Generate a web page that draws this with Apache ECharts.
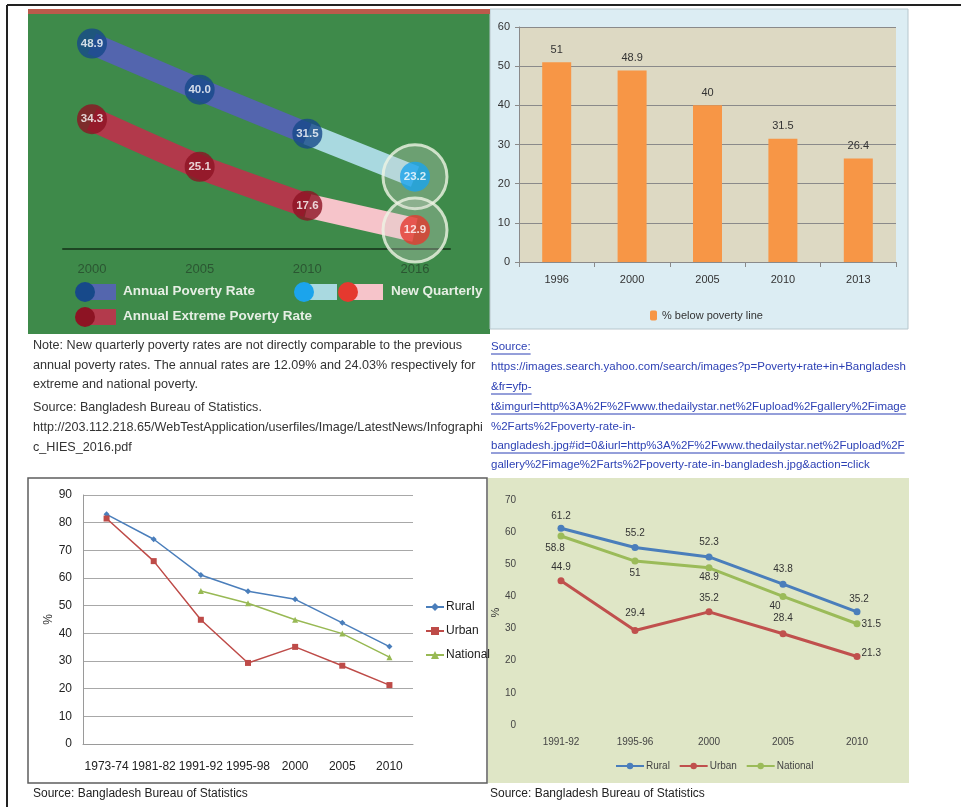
<!DOCTYPE html>
<html><head><meta charset="utf-8">
<script src="https://cdn.jsdelivr.net/npm/echarts@6/dist/echarts.min.js"></script>
<style>html,body{margin:0;padding:0;background:#fff}#c{width:961px;height:807px}</style>
</head><body><div id="c"></div><script>
// ---- HIES infographic: annual vs new quarterly poverty rate ----
var hiesYears = ['2000', '2005', '2010', '2016'];
var annualPoverty = [48.9, 40.0, 31.5, null];
var annualExtreme = [34.3, 25.1, 17.6, null];
var quarterlyPoverty = [null, null, 31.5, 23.2];
var quarterlyExtreme = [null, null, 17.6, 12.9];

// ---- % below poverty line ----
var barYears = ['1996', '2000', '2005', '2010', '2013'];
var belowLine = [51, 48.9, 40, 31.5, 26.4];

// ---- Rural / urban / national, long run ----
var longPeriods = ['1973-74', '1981-82', '1991-92', '1995-98', '2000', '2005', '2010'];
var longRural = [83, 74, 61.1, 55.2, 52.3, 43.8, 35.2];
var longUrban = [81.5, 66.1, 44.9, 29.3, 35.1, 28.3, 21.3];
var longNational = [null, null, 55.3, 50.9, 44.9, 39.9, 31.4];

// ---- Rural / urban / national, HIES rounds ----
var roundPeriods = ['1991-92', '1995-96', '2000', '2005', '2010'];
var roundRural = [61.2, 55.2, 52.3, 43.8, 35.2];
var roundUrban = [44.9, 29.4, 35.2, 28.4, 21.3];
var roundNational = [58.8, 51, 48.9, 40, 31.5];

var SANS = "'Liberation Sans', Arial, sans-serif";
var chart = echarts.init(document.getElementById('c'), null, {renderer: 'canvas'});

// measure text so underlines can follow link lines
var mctx = document.createElement('canvas').getContext('2d');
function textWidth(t, font) { mctx.font = font; return mctx.measureText(t).width; }

function pointsOf(arr) {
  var out = [];
  arr.forEach(function (v, i) { if (v != null) out.push([i, v]); });
  return out;
}
function lastPoint(arr) { var i = arr.length - 1; return [[i, arr[i]]]; }

// label placement for the HIES-round line chart
var roundLabelPos = {
  rural: ['top', 'top', 'top', 'top', 'top'],
  urban: ['top', 'top', 'top', 'top', 'right'],
  national: ['bottom', 'bottom', 'bottom', 'bottom', 'right']
};
function labelled(arr, pos, offsets) {
  return arr.map(function (v, i) {
    return {value: v, label: {position: pos[i], offset: offsets ? offsets[i] : [0, 0]}};
  });
}

// ---------- static decoration / text ----------
var noteFont = '12.6px ' + SANS;
var linkFont = '11.5px ' + SANS;
var noteLines = [
  'Note: New quarterly poverty rates are not directly comparable to the previous',
  'annual poverty rates. The annual rates are 12.09% and 24.03% respectively for',
  'extreme and national poverty.',
  'Source: Bangladesh Bureau of Statistics.',
  'http://203.112.218.65/WebTestApplication/userfiles/Image/LatestNews/Infographi',
  'c_HIES_2016.pdf'
];
var noteY = [346, 366, 385, 408, 428, 448];
var linkLines = [
  ['Source:', true],
  ['https://images.search.yahoo.com/search/images?p=Poverty+rate+in+Bangladesh', false],
  ['&fr=yfp-', true],
  ['t&imgurl=http%3A%2F%2Fwww.thedailystar.net%2Fupload%2Fgallery%2Fimage', true],
  ['%2Farts%2Fpoverty-rate-in-', false],
  ['bangladesh.jpg#id=0&iurl=http%3A%2F%2Fwww.thedailystar.net%2Fupload%2F', true],
  ['gallery%2Fimage%2Farts%2Fpoverty-rate-in-bangladesh.jpg&action=click', false]
];
var linkY = [348, 368, 388, 408, 428, 447, 466];

var graphics = [
  // outer frame
  {type: 'line', shape: {x1: 7, y1: 5, x2: 961, y2: 5}, style: {stroke: '#222', lineWidth: 2}, z: -5},
  {type: 'line', shape: {x1: 7, y1: 5, x2: 7, y2: 807}, style: {stroke: '#222', lineWidth: 2}, z: -5},
  // infographic panel
  {type: 'rect', shape: {x: 28, y: 9, width: 462, height: 325}, style: {fill: '#3e8a4a'}, z: -10},
  {type: 'rect', shape: {x: 28, y: 9, width: 462, height: 5}, style: {fill: '#bb5a4b'}, z: -9},
  // bar chart panel
  {type: 'rect', shape: {x: 490, y: 9, width: 418, height: 320}, style: {fill: '#dcedf3', stroke: '#b7c6cc', lineWidth: 1}, z: -10},
  // long-run line chart box
  {type: 'rect', shape: {x: 28, y: 478, width: 459, height: 305}, style: {fill: '#ffffff', stroke: '#5e5e5e', lineWidth: 1.5}, z: -10},
  // HIES rounds line chart panel
  {type: 'rect', shape: {x: 488, y: 478, width: 421, height: 305}, style: {fill: '#dfe6c6'}, z: -10},
  // sources
  {type: 'text', left: 33, top: 788, style: {text: 'Source: Bangladesh Bureau of Statistics', font: '12px ' + SANS, fill: '#222'}},
  {type: 'text', left: 490, top: 788, style: {text: 'Source: Bangladesh Bureau of Statistics', font: '12px ' + SANS, fill: '#222'}}
];
noteLines.forEach(function (t, i) {
  graphics.push({type: 'text', left: 33, top: noteY[i] - 7, style: {text: t, font: noteFont, fill: '#333'}});
});
linkLines.forEach(function (l, i) {
  graphics.push({type: 'text', left: 491, top: linkY[i] - 7, style: {text: l[0], font: linkFont, fill: '#2b3fb4'}});
  if (l[1]) {
    var w = textWidth(l[0], linkFont);
    graphics.push({type: 'line', shape: {x1: 491, y1: linkY[i] + 6, x2: 491 + w, y2: linkY[i] + 6},
      style: {stroke: '#2b3fb4', lineWidth: 1}});
  }
});

// infographic legend: dot joined to a band
function bandIcon(cx, cy, len, dot, band) {
  graphics.push({type: 'rect', shape: {x: cx, y: cy - 8, width: len, height: 16}, style: {fill: band}, z: 5});
  graphics.push({type: 'circle', shape: {cx: cx, cy: cy, r: 10}, style: {fill: dot}, z: 6});
}
bandIcon(85, 292, 31, '#17498a', '#5466ae');
bandIcon(304, 292, 33, '#1ba4ec', '#a9d9e0');
bandIcon(348, 292, 35, '#e5392f', '#f6c4ca');
bandIcon(85, 317, 31, '#8d1323', '#b33a4c');
var legFont = 'bold 13.5px ' + SANS;
graphics.push({type: 'text', left: 123, top: 284, style: {text: 'Annual Poverty Rate', font: legFont, fill: '#e6eee4'}, z: 6});
graphics.push({type: 'text', left: 391, top: 284, style: {text: 'New Quarterly', font: legFont, fill: '#e6eee4'}, z: 6});
graphics.push({type: 'text', left: 123, top: 309, style: {text: 'Annual Extreme Poverty Rate', font: legFont, fill: '#e6eee4'}, z: 6});

function ribbon(name, data, color, width, smooth) {
  return {
    name: name, type: 'line', xAxisIndex: 1, yAxisIndex: 1, data: data, symbol: 'none',
    smooth: smooth || false, silent: true, z: 2,
    lineStyle: {color: color, width: width, cap: 'butt', join: 'round'}
  };
}
function dots(data, color, z) {
  return {
    type: 'scatter', xAxisIndex: 1, yAxisIndex: 1, data: data, symbolSize: 30, silent: true, z: z,
    itemStyle: {color: color},
    label: {show: true, position: 'inside', color: '#fff', fontWeight: 'bold', fontSize: 11.5, fontFamily: SANS,
      formatter: function (p) { return p.value[1].toFixed(1); }}
  };
}

var option = {
  animation: false,
  backgroundColor: '#ffffff',
  textStyle: {fontFamily: SANS},
  graphic: graphics,
  grid: [
    {left: 63, top: 20, width: 387, height: 229},
    {left: 92, top: 12, width: 323, height: 233},
    {left: 519, top: 27, width: 377, height: 235, show: true, backgroundColor: '#ddd9c3', borderWidth: 0},
    {left: 83, top: 495, width: 330, height: 249},
    {left: 524, top: 500, width: 370, height: 225}
  ],
  xAxis: [
    {gridIndex: 0, type: 'category', data: hiesYears, axisLine: {lineStyle: {color: '#1d4523', width: 2}},
      axisTick: {show: false}, axisLabel: {show: false}},
    {gridIndex: 1, type: 'category', data: hiesYears, boundaryGap: false, axisLine: {show: false},
      axisTick: {show: false}, axisLabel: {color: '#2b5632', fontSize: 13, margin: 18}},
    {gridIndex: 2, type: 'category', data: barYears, axisLine: {lineStyle: {color: '#8a8a8a'}},
      axisTick: {show: true, length: 5, lineStyle: {color: '#8a8a8a'}},
      axisLabel: {color: '#333', fontSize: 11, margin: 12}},
    {gridIndex: 3, type: 'category', data: longPeriods, axisLine: {lineStyle: {color: '#9a9a9a'}},
      axisTick: {show: false}, axisLabel: {color: '#222', fontSize: 12, margin: 17, interval: 0}},
    {gridIndex: 4, type: 'category', data: roundPeriods, axisLine: {show: false},
      axisTick: {show: false}, axisLabel: {color: '#444', fontSize: 10, margin: 12}}
  ],
  yAxis: [
    {gridIndex: 0, type: 'value', show: false},
    {gridIndex: 1, type: 'value', min: 10, max: 55, show: false},
    {gridIndex: 2, type: 'value', min: 0, max: 60, interval: 10,
      axisLine: {show: true, lineStyle: {color: '#8a8a8a'}}, axisTick: {show: true, length: 4},
      splitLine: {lineStyle: {color: '#8a8a8a'}}, axisLabel: {color: '#333', fontSize: 11, margin: 9}},
    {gridIndex: 3, type: 'value', min: 0, max: 90, interval: 10, name: '%', nameLocation: 'middle', nameGap: 27,
      nameTextStyle: {color: '#333', fontSize: 12},
      axisLine: {show: true, lineStyle: {color: '#9a9a9a'}}, axisTick: {show: false},
      splitLine: {lineStyle: {color: '#a8a8a8'}}, axisLabel: {color: '#222', fontSize: 12, margin: 11}},
    {gridIndex: 4, type: 'value', min: 0, max: 70, interval: 10, name: '%', nameLocation: 'middle', nameGap: 22,
      nameTextStyle: {color: '#333', fontSize: 11},
      axisLine: {show: false}, axisTick: {show: false}, splitLine: {show: false},
      axisLabel: {color: '#444', fontSize: 10, margin: 8}}
  ],
  legend: [
    {data: ['% below poverty line'], left: 645, top: 305, itemWidth: 7, itemHeight: 10, itemGap: 4,
      textStyle: {fontSize: 11, color: '#333'}, selectedMode: false},
    {data: ['Rural', 'Urban', 'National'], orient: 'vertical', left: 420, top: 596, itemGap: 12,
      itemWidth: 18, itemHeight: 10, textStyle: {fontSize: 12, color: '#222', padding: [0, 0, 0, -3]}, selectedMode: false},
    {data: ['Rural ', 'Urban ', 'National '], left: 610, top: 756, itemGap: 6,
      itemWidth: 28, itemHeight: 8, textStyle: {fontSize: 10, color: '#444', padding: [0, 0, 0, -3]}, selectedMode: false}
  ],
  series: [
    // infographic ribbons
    ribbon('poverty-q', quarterlyPoverty, '#a9d9e0', 22),
    ribbon('extreme-q', quarterlyExtreme, '#f6c4ca', 24),
    ribbon('poverty', annualPoverty, '#5365ae', 22),
    ribbon('extreme', annualExtreme, '#b2394b', 24, 0.2),
    {type: 'scatter', xAxisIndex: 1, yAxisIndex: 1, silent: true, z: 3, symbolSize: 64,
      data: lastPoint(quarterlyPoverty).concat(lastPoint(quarterlyExtreme)),
      itemStyle: {color: 'rgba(214,214,206,0.38)', borderColor: '#eef4e4', borderWidth: 3}},
    dots(pointsOf(annualPoverty), '#17498a', 4),
    dots(pointsOf(annualExtreme), '#8d1323', 4),
    dots(lastPoint(quarterlyPoverty), '#1ba4ec', 5),
    dots(lastPoint(quarterlyExtreme), '#e5392f', 5),

    // bar chart
    {name: '% below poverty line', type: 'bar', xAxisIndex: 2, yAxisIndex: 2, data: belowLine, barWidth: 29,
      itemStyle: {color: '#f79646'},
      label: {show: true, position: 'top', distance: 7, color: '#333', fontSize: 11}},

    // long-run lines
    {name: 'Rural', type: 'line', xAxisIndex: 3, yAxisIndex: 3, data: longRural, symbol: 'diamond', symbolSize: 6,
      itemStyle: {color: '#4a7ebb'}, lineStyle: {width: 1.5}},
    {name: 'Urban', type: 'line', xAxisIndex: 3, yAxisIndex: 3, data: longUrban, symbol: 'rect', symbolSize: 6,
      itemStyle: {color: '#be4b48'}, lineStyle: {width: 1.5}},
    {name: 'National', type: 'line', xAxisIndex: 3, yAxisIndex: 3, data: longNational, symbol: 'triangle', symbolSize: 6,
      itemStyle: {color: '#98b954'}, lineStyle: {width: 1.5}},

    // HIES-round lines
    {name: 'Rural ', type: 'line', xAxisIndex: 4, yAxisIndex: 4, symbol: 'circle', symbolSize: 7,
      data: labelled(roundRural, roundLabelPos.rural, [[0, 2], [0, 0], [0, 0], [0, 0], [2, 2]]),
      itemStyle: {color: '#4a7ebb'}, lineStyle: {width: 3},
      label: {show: true, color: '#333', fontSize: 10, distance: 6}},
    {name: 'Urban ', type: 'line', xAxisIndex: 4, yAxisIndex: 4, symbol: 'circle', symbolSize: 7,
      data: labelled(roundUrban, roundLabelPos.urban, [[0, 0], [0, -4], [0, 0], [0, -2], [-4, -3]]),
      itemStyle: {color: '#c0504d'}, lineStyle: {width: 3},
      label: {show: true, color: '#333', fontSize: 10, distance: 5}},
    {name: 'National ', type: 'line', xAxisIndex: 4, yAxisIndex: 4, symbol: 'circle', symbolSize: 7,
      data: labelled(roundNational, roundLabelPos.national, [[-6, 0], [0, 0], [0, -3], [-8, -3], [-3, 0]]),
      itemStyle: {color: '#9bbb59'}, lineStyle: {width: 3},
      label: {show: true, color: '#333', fontSize: 10, distance: 4}}
  ]
};
chart.setOption(option);
</script></body></html>
